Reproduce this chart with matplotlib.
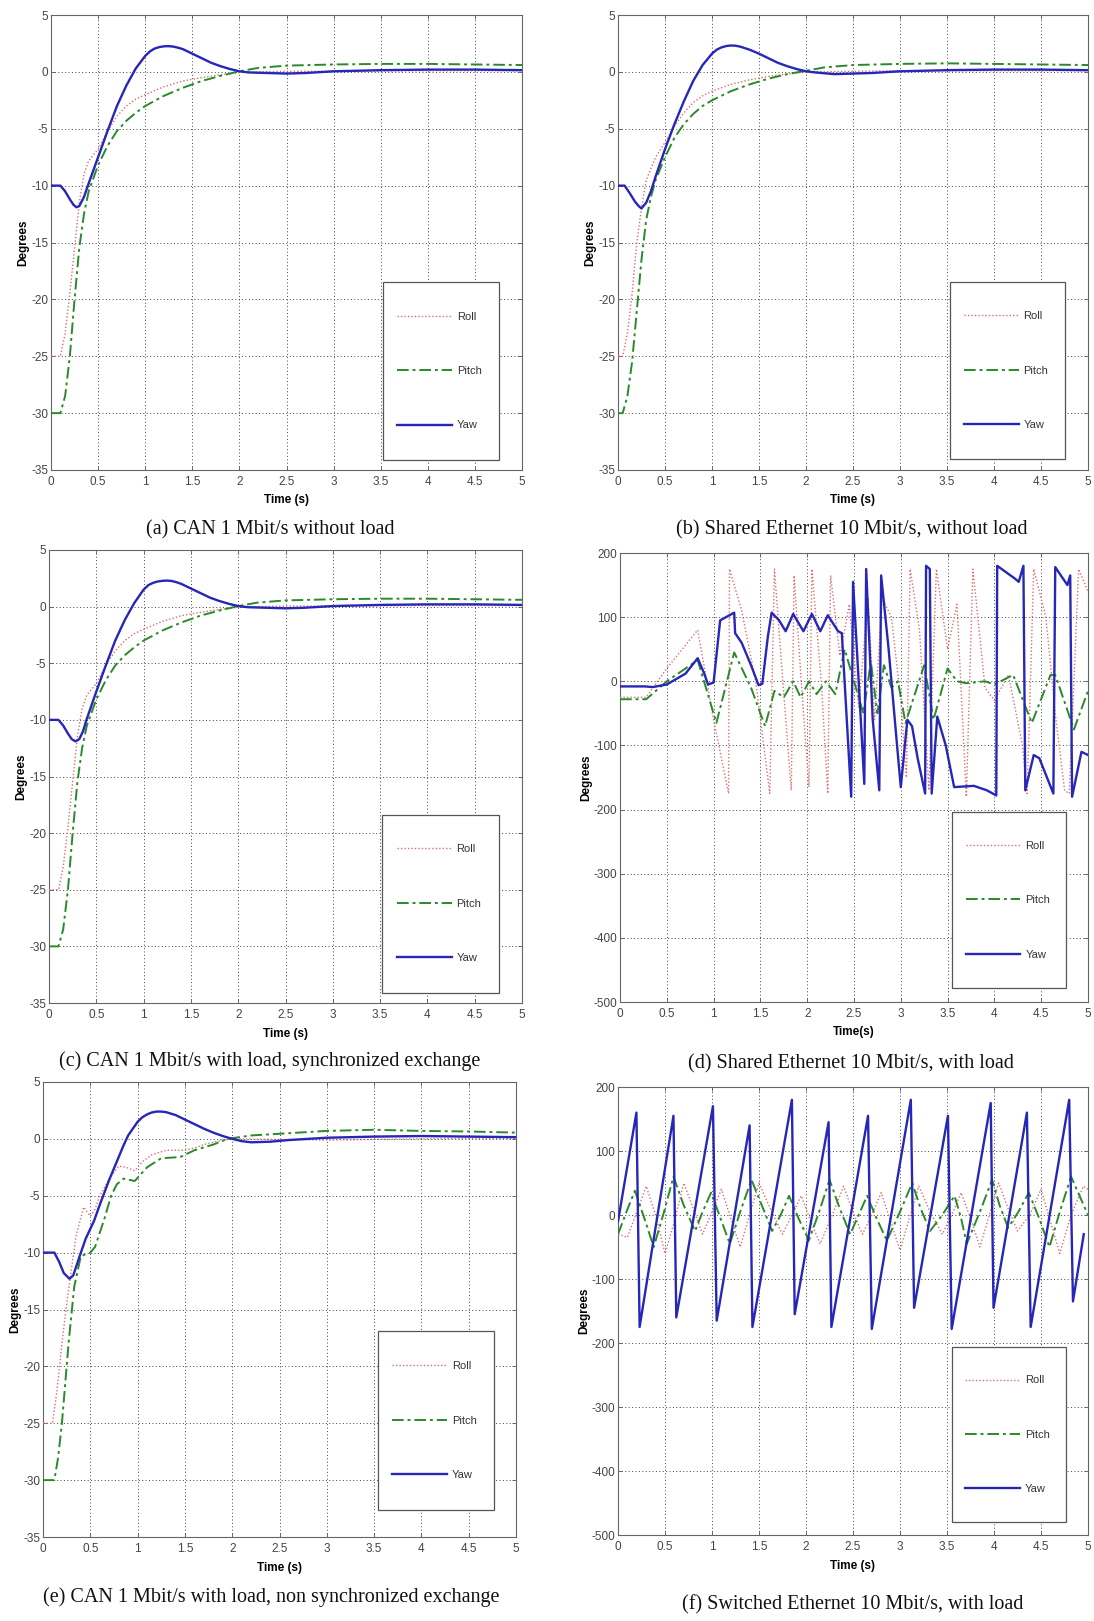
import matplotlib
matplotlib.use("Agg")
import matplotlib.pyplot as plt
from matplotlib.patches import Rectangle

# ---------------- data ----------------
# (a) CAN 1 Mbit/s without load
a_t_yaw = [0, 0.1, 0.15, 0.2, 0.24, 0.27, 0.3, 0.35, 0.4, 0.5, 0.6, 0.7, 0.8, 0.9, 1.0, 1.05, 1.1, 1.15, 1.2, 1.25, 1.3, 1.35, 1.4, 1.5, 1.6, 1.7, 1.8, 1.9, 2.0, 2.1, 2.3, 2.5, 2.7, 3.0, 3.5, 4.0, 4.5, 5.0]
a_yaw = [-10, -10, -10.5, -11.2, -11.7, -11.9, -11.8, -11.0, -9.8, -7.5, -5.2, -3.0, -1.2, 0.3, 1.4, 1.8, 2.05, 2.18, 2.25, 2.26, 2.22, 2.12, 2.0, 1.6, 1.2, 0.8, 0.5, 0.25, 0.05, -0.05, -0.1, -0.15, -0.1, 0.05, 0.15, 0.2, 0.2, 0.15]
a_t_roll = [0, 0.1, 0.15, 0.2, 0.25, 0.3, 0.35, 0.4, 0.5, 0.6, 0.7, 0.8, 0.9, 1.0, 1.2, 1.4, 1.6, 1.8, 2.0, 2.5, 3.0, 4.0, 5.0]
a_roll = [-25, -25, -23, -19.5, -15.5, -11.5, -9.0, -7.8, -6.8, -5.2, -3.9, -3.0, -2.4, -2.0, -1.3, -0.8, -0.5, -0.25, -0.05, 0.05, 0.05, 0.1, 0.1]
a_t_pitch = [0, 0.1, 0.15, 0.2, 0.25, 0.3, 0.35, 0.4, 0.5, 0.6, 0.7, 0.8, 0.9, 1.0, 1.2, 1.4, 1.6, 1.8, 2.0, 2.2, 2.5, 3.0, 3.5, 4.0, 4.5, 5.0]
a_pitch = [-30, -30, -28.5, -25, -20, -15.5, -12.5, -10.5, -8.2, -6.5, -5.2, -4.3, -3.6, -3.0, -2.1, -1.4, -0.8, -0.35, 0.05, 0.35, 0.55, 0.65, 0.7, 0.7, 0.65, 0.6]

# (b) Shared Ethernet 10 Mbit/s, without load
b_t_yaw = [0, 0.07, 0.12, 0.18, 0.22, 0.25, 0.3, 0.35, 0.4, 0.5, 0.6, 0.7, 0.8, 0.9, 1.0, 1.05, 1.1, 1.15, 1.2, 1.25, 1.3, 1.4, 1.5, 1.6, 1.7, 1.8, 1.9, 2.0, 2.1, 2.3, 2.5, 2.7, 3.0, 3.5, 4.0, 4.5, 5.0]
b_yaw = [-10, -10, -10.6, -11.4, -11.8, -12.0, -11.5, -10.5, -9.2, -6.8, -4.6, -2.6, -0.8, 0.6, 1.6, 1.95, 2.15, 2.27, 2.32, 2.3, 2.22, 1.95, 1.6, 1.2, 0.8, 0.5, 0.25, 0.05, -0.05, -0.2, -0.15, -0.1, 0.05, 0.15, 0.2, 0.2, 0.15]
b_t_roll = [0, 0.05, 0.1, 0.15, 0.2, 0.25, 0.3, 0.4, 0.5, 0.6, 0.7, 0.8, 0.9, 1.0, 1.2, 1.4, 1.6, 1.8, 2.0, 2.5, 3.0, 4.0, 5.0]
b_roll = [-25, -25, -23, -19.5, -15, -12, -9.5, -7.5, -6.2, -4.8, -3.6, -2.7, -2.1, -1.7, -1.1, -0.7, -0.4, -0.2, 0.0, 0.05, 0.1, 0.1, 0.1]
b_t_pitch = [0, 0.05, 0.1, 0.15, 0.2, 0.25, 0.3, 0.35, 0.4, 0.5, 0.6, 0.7, 0.8, 0.9, 1.0, 1.2, 1.4, 1.6, 1.8, 2.0, 2.2, 2.5, 3.0, 3.5, 4.0, 4.5, 5.0]
b_pitch = [-30, -30, -28.5, -25.5, -21, -16.5, -13, -11, -9.5, -7.5, -5.8, -4.6, -3.7, -3.0, -2.5, -1.7, -1.1, -0.6, -0.2, 0.1, 0.4, 0.6, 0.7, 0.75, 0.7, 0.65, 0.6]

# (c) CAN 1 Mbit/s with load, synchronized exchange
c_t_yaw = [0, 0.1, 0.15, 0.2, 0.24, 0.28, 0.32, 0.36, 0.4, 0.5, 0.6, 0.7, 0.8, 0.9, 1.0, 1.05, 1.1, 1.15, 1.2, 1.25, 1.3, 1.35, 1.4, 1.5, 1.6, 1.7, 1.8, 1.9, 2.0, 2.1, 2.3, 2.5, 2.7, 3.0, 3.5, 4.0, 4.5, 5.0]
c_yaw = [-10, -10, -10.5, -11.2, -11.7, -11.9, -11.7, -11.0, -9.9, -7.5, -5.2, -3.0, -1.2, 0.3, 1.5, 1.9, 2.1, 2.22, 2.28, 2.3, 2.26, 2.15, 2.0, 1.6, 1.2, 0.8, 0.5, 0.25, 0.05, -0.05, -0.1, -0.15, -0.1, 0.05, 0.15, 0.2, 0.2, 0.15]
c_t_roll = [0, 0.1, 0.15, 0.2, 0.25, 0.3, 0.35, 0.4, 0.5, 0.6, 0.7, 0.8, 0.9, 1.0, 1.2, 1.4, 1.6, 1.8, 2.0, 2.5, 3.0, 4.0, 5.0]
c_roll = [-25, -25, -23, -19.5, -15.5, -11.5, -9.0, -7.8, -6.8, -5.2, -3.9, -3.0, -2.4, -2.0, -1.3, -0.8, -0.5, -0.25, -0.05, 0.05, 0.05, 0.1, 0.1]
c_t_pitch = [0, 0.1, 0.15, 0.2, 0.25, 0.3, 0.35, 0.4, 0.5, 0.6, 0.7, 0.8, 0.9, 1.0, 1.2, 1.4, 1.6, 1.8, 2.0, 2.2, 2.5, 3.0, 3.5, 4.0, 4.5, 5.0]
c_pitch = [-30, -30, -28.5, -25, -20, -15.5, -12.5, -10.5, -8.2, -6.5, -5.2, -4.3, -3.6, -3.0, -2.1, -1.4, -0.8, -0.35, 0.05, 0.35, 0.55, 0.65, 0.7, 0.7, 0.65, 0.6]

# (d) Shared Ethernet 10 Mbit/s, with load
d_t_yaw = [0, 0.27, 0.35, 0.5, 0.7, 0.83, 0.9, 0.94, 1.0, 1.07, 1.22, 1.23, 1.3, 1.4, 1.48, 1.52, 1.58, 1.62, 1.7, 1.77, 1.85, 1.96, 2.05, 2.14, 2.22, 2.33, 2.37, 2.47, 2.49, 2.55, 2.61, 2.63, 2.7, 2.77, 2.79, 2.87, 2.96, 3.0, 3.07, 3.12, 3.18, 3.26, 3.27, 3.31, 3.33, 3.39, 3.48, 3.57, 3.78, 3.92, 4.02, 4.03, 4.22, 4.26, 4.31, 4.33, 4.42, 4.48, 4.63, 4.65, 4.78, 4.81, 4.83, 4.93, 5.0]
d_yaw = [-8, -8, -9, -5, 12, 36, 12, -5, -2, 95, 107, 75, 60, 25, -6, -4, 70, 107, 95, 78, 105, 78, 105, 78, 103, 78, 75, -180, 155, 0, -160, 175, -60, -170, 165, 50, -100, -165, -60, -70, -120, -175, 180, 175, -175, -55, -100, -165, -163, -170, -178, 180, 160, 155, 180, -170, -115, -120, -175, 178, 150, 165, -180, -110, -115]
d_t_roll = [0, 0.28, 0.5, 0.83, 1.0, 1.16, 1.17, 1.3, 1.45, 1.6, 1.65, 1.75, 1.83, 1.86, 1.95, 2.02, 2.05, 2.15, 2.22, 2.25, 2.35, 2.45, 2.55, 2.65, 2.72, 2.8, 2.9, 3.0, 3.06, 3.1, 3.2, 3.3, 3.38, 3.5, 3.6, 3.7, 3.77, 3.9, 4.0, 4.15, 4.3, 4.35, 4.42, 4.55, 4.65, 4.75, 4.8, 4.9, 5.0]
d_roll = [-25, -25, 20, 80, -60, -175, 175, 110, 0, -175, 175, -20, -170, 165, -30, -165, 175, 0, -175, 165, 40, 120, -40, 130, -60, 130, 100, -30, -150, 175, 80, -170, 175, 50, 120, -180, 175, -10, -30, 10, -100, -175, 175, 100, -50, -170, -175, 175, 140]
d_t_pitch = [0, 0.28, 0.5, 0.83, 1.03, 1.22, 1.4, 1.55, 1.65, 1.75, 1.85, 1.93, 2.02, 2.1, 2.2, 2.3, 2.4, 2.5, 2.6, 2.68, 2.75, 2.82, 2.9, 2.97, 3.05, 3.25, 3.35, 3.5, 3.6, 3.7, 3.9, 4.0, 4.2, 4.4, 4.6, 4.65, 4.85, 5.0]
d_pitch = [-28, -28, 0, 33, -65, 45, -10, -70, -15, -25, 0, -25, 0, -20, 0, -20, 50, 0, -50, 30, -50, 25, -10, 0, -65, 25, -60, 20, 0, -3, 0, -5, 10, -65, 10, 10, -75, -15]

# (e) CAN 1 Mbit/s with load, non synchronized exchange
e_t_yaw = [0, 0.12, 0.17, 0.22, 0.28, 0.32, 0.38, 0.45, 0.54, 0.6, 0.7, 0.8, 0.85, 0.9, 1.0, 1.05, 1.1, 1.15, 1.2, 1.25, 1.3, 1.4, 1.5, 1.6, 1.7, 1.8, 1.9, 2.0, 2.1, 2.2, 2.4, 2.6, 3.0, 3.5, 4.0, 4.5, 5.0]
e_yaw = [-10, -10, -10.8, -11.8, -12.3, -12.0, -10.5, -8.8, -7.2, -5.8, -3.6, -1.6, -0.6, 0.3, 1.5, 1.9, 2.15, 2.32, 2.4, 2.4, 2.35, 2.1, 1.7, 1.3, 0.9, 0.55, 0.25, 0.0, -0.2, -0.3, -0.25, -0.1, 0.1, 0.2, 0.25, 0.2, 0.15]
e_t_roll = [0, 0.1, 0.15, 0.2, 0.25, 0.3, 0.35, 0.43, 0.5, 0.55, 0.6, 0.7, 0.8, 0.88, 0.97, 1.05, 1.15, 1.3, 1.5, 1.6, 1.7, 1.85, 2.0, 2.5, 3.0, 4.0, 5.0]
e_roll = [-25, -25, -22, -18, -14.5, -11.5, -8.5, -6.0, -6.8, -6.2, -5.0, -3.5, -2.4, -2.5, -2.8, -2.0, -1.4, -1.0, -1.0, -0.8, -0.5, -0.2, 0.0, -0.05, -0.1, 0.0, 0.05]
e_t_pitch = [0, 0.12, 0.16, 0.2, 0.27, 0.33, 0.4, 0.5, 0.55, 0.65, 0.72, 0.78, 0.85, 0.97, 1.1, 1.25, 1.45, 1.6, 1.8, 1.95, 2.2, 2.6, 3.0, 3.5, 4.0, 4.5, 5.0]
e_pitch = [-30, -30, -28, -25, -18, -13, -10.3, -10.0, -9.5, -7.0, -5.0, -4.0, -3.5, -3.7, -2.5, -1.7, -1.6, -1.0, -0.5, 0.0, 0.3, 0.5, 0.7, 0.8, 0.7, 0.65, 0.55]

# (f) Switched Ethernet 10 Mbit/s, with load
f_t_yaw = [0, 0.196, 0.23, 0.59, 0.62, 1.01, 1.05, 1.40, 1.43, 1.85, 1.88, 2.24, 2.27, 2.66, 2.70, 3.115, 3.15, 3.51, 3.55, 3.965, 3.995, 4.35, 4.39, 4.80, 4.84, 4.955]
f_yaw = [-10, 160, -175, 155, -160, 170, -165, 140, -175, 180, -155, 145, -175, 155, -178, 180, -145, 155, -178, 175, -145, 160, -175, 180, -135, -30]
f_t_roll = [0, 0.1, 0.2, 0.3, 0.4, 0.5, 0.6, 0.7, 0.8, 0.9, 1.0, 1.1, 1.2, 1.3, 1.4, 1.5, 1.62, 1.75, 1.85, 1.95, 2.05, 2.15, 2.28, 2.4, 2.5, 2.6, 2.7, 2.8, 2.9, 3.0, 3.1, 3.2, 3.32, 3.45, 3.55, 3.65, 3.75, 3.85, 3.95, 4.05, 4.15, 4.25, 4.38, 4.5, 4.6, 4.7, 4.82, 4.95, 5.0]
f_roll = [-30, -35, 5, 45, 0, -60, -10, 50, 10, -30, 5, 40, -5, -50, 0, 50, 10, -30, 0, 30, -10, -45, 0, 45, 5, -30, 0, 35, -10, -55, -5, 45, 5, -30, 0, 35, -5, -50, 0, 50, 10, -25, 0, 40, -10, -60, 0, 45, 40]
f_t_pitch = [0, 0.09, 0.18, 0.28, 0.38, 0.49, 0.59, 0.7, 0.82, 0.9, 0.99, 1.09, 1.19, 1.3, 1.42, 1.53, 1.64, 1.73, 1.82, 1.92, 2.03, 2.14, 2.25, 2.36, 2.47, 2.56, 2.65, 2.75, 2.86, 3.0, 3.13, 3.22, 3.32, 3.45, 3.58, 3.65, 3.71, 3.85, 3.98, 4.06, 4.15, 4.26, 4.37, 4.48, 4.59, 4.7, 4.82, 4.91, 5.0]
f_pitch = [-30, 5, 38, -5, -50, 5, 60, 15, -25, 5, 35, -5, -45, 5, 55, 15, -25, 0, 30, -5, -40, 5, 55, 10, -30, 0, 30, -5, -40, 5, 50, 10, -25, 0, 30, -5, -45, 5, 55, 15, -20, 5, 35, -5, -50, 5, 60, 30, 0]

captions = ["(a) CAN 1 Mbit/s without load",
            "(b) Shared Ethernet 10 Mbit/s, without load",
            "(c) CAN 1 Mbit/s with load, synchronized exchange",
            "(d) Shared Ethernet 10 Mbit/s, with load",
            "(e) CAN 1 Mbit/s with load, non synchronized exchange",
            "(f) Switched Ethernet 10 Mbit/s, with load"]
xlabels = ["Time (s)", "Time (s)", "Time (s)", "Time(s)", "Time (s)", "Time (s)"]
series_names = ["Roll", "Pitch", "Yaw"]
x_ticks = [0, 0.5, 1, 1.5, 2, 2.5, 3, 3.5, 4, 4.5, 5]
x_ticklabels = ["0", "0.5", "1", "1.5", "2", "2.5", "3", "3.5", "4", "4.5", "5"]
small_yticks = [5, 0, -5, -10, -15, -20, -25, -30, -35]
big_yticks = [200, 100, 0, -100, -200, -300, -400, -500]

# ---------------- layout ----------------
W, H = 1094, 1621
fig = plt.figure(figsize=(W / 100, H / 100), dpi=100)
fig.patch.set_facecolor("white")

# axes rectangles in pixels: left, top, right, bottom
rects = [(51, 15, 522, 470), (618, 15, 1088, 470),
         (49, 550, 522, 1003), (620, 553, 1088, 1002),
         (43, 1082, 516, 1537), (618, 1087, 1088, 1535)]
# legend boxes in axes fraction: x0, y0, x1, y1
legboxes = [(0.705, 0.022, 0.951, 0.413), (0.706, 0.024, 0.952, 0.413),
            (0.705, 0.0225, 0.951, 0.416), (0.710, 0.0305, 0.954, 0.423),
            (0.709, 0.059, 0.953, 0.453), (0.710, 0.028, 0.954, 0.419)]
xlabel_pads = [5.0, 5.0, 5.0, 5.0, 5.0, 5.0]
cap_pos = [(270, 530), (852, 530), (270, 1061), (851, 1064), (271, 1597), (853, 1605)]

data = [
    (a_t_roll, a_roll, a_t_pitch, a_pitch, a_t_yaw, a_yaw),
    (b_t_roll, b_roll, b_t_pitch, b_pitch, b_t_yaw, b_yaw),
    (c_t_roll, c_roll, c_t_pitch, c_pitch, c_t_yaw, c_yaw),
    (d_t_roll, d_roll, d_t_pitch, d_pitch, d_t_yaw, d_yaw),
    (e_t_roll, e_roll, e_t_pitch, e_pitch, e_t_yaw, e_yaw),
    (f_t_roll, f_roll, f_t_pitch, f_pitch, f_t_yaw, f_yaw),
]
big = [False, False, False, True, False, True]

roll_c = "#d87070"
pitch_c = "#2a8a2a"
yaw_c = "#2626b8"
tick_c = "#555555"
sans = ["Liberation Sans", "DejaVu Sans"]
serif = ["Liberation Serif", "DejaVu Serif"]

for i, (l, t, r, b) in enumerate(rects):
    ax = fig.add_axes([l / W, 1 - b / H, (r - l) / W, (b - t) / H])
    tr, rv, tp, pv, ty, yv = data[i]
    ax.plot(tr, rv, color=roll_c, linestyle=(0, (1, 1.5)), linewidth=1.0, label=series_names[0], zorder=3)
    ax.plot(tp, pv, color=pitch_c, linestyle=(0, (6, 2, 1.5, 2)), linewidth=1.4, label=series_names[1], zorder=4)
    ax.plot(ty, yv, color=yaw_c, linestyle="-", linewidth=1.7, label=series_names[2], zorder=5)
    ax.set_xlim(0, 5)
    if big[i]:
        ax.set_ylim(-500, 200)
        ax.set_yticks(big_yticks)
        ax.set_yticklabels([str(v) for v in big_yticks])
    else:
        ax.set_ylim(-35, 5)
        ax.set_yticks(small_yticks)
        ax.set_yticklabels([str(v) for v in small_yticks])
    ax.set_xticks(x_ticks)
    ax.set_xticklabels(x_ticklabels)
    ax.grid(True, linestyle=(0, (1, 2.5)), color="#444444", linewidth=0.7)
    ax.tick_params(direction="in", length=3, width=0.6, colors=tick_c, labelsize=8.5, pad=2,
                   top=True, right=True)
    ax.tick_params(axis="x", pad=4)
    for lab in ax.get_xticklabels() + ax.get_yticklabels():
        lab.set_family(sans)
        lab.set_color("#444444")
    for s in ax.spines.values():
        s.set_color("#666666")
        s.set_linewidth(0.8)
    ax.set_xlabel(xlabels[i], fontsize=8.5, fontweight="bold", family=sans, labelpad=xlabel_pads[i])
    ax.set_ylabel("Degrees", fontsize=8.5, fontweight="bold", family=sans, labelpad=1)

    # legend box
    x0, y0, x1, y1 = legboxes[i]
    ax.add_patch(Rectangle((x0, y0), x1 - x0, y1 - y0, transform=ax.transAxes,
                           facecolor="white", edgecolor="#555555", linewidth=0.9, zorder=6))
    leg = ax.legend(loc="center", bbox_to_anchor=((x0 + x1) / 2 - 0.003, (y0 + y1) / 2),
                    frameon=False, handlelength=4.9, handletextpad=0.45,
                    labelspacing=4.0, prop={"family": sans, "size": 8})
    leg.set_zorder(7)
    for txt in leg.get_texts():
        txt.set_color("#333333")

    fig.text(cap_pos[i][0] / W, 1 - cap_pos[i][1] / H, captions[i], ha="center", va="center",
             fontsize=14.5, family=serif, color="#111111")

fig.savefig("out.png", dpi=100, facecolor="white")
